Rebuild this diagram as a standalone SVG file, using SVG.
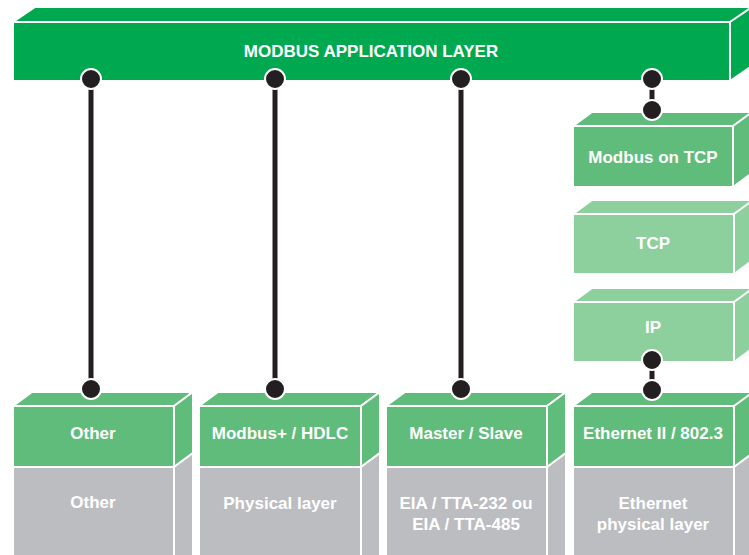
<svg xmlns="http://www.w3.org/2000/svg" width="749" height="555" viewBox="0 0 749 555">
<style>
.f{stroke:#fff;stroke-width:2;stroke-linejoin:miter}
.g0{fill:#00A94F}
.g1{fill:#5FBC7A}
.g2{fill:#8ECF9E}
.gr{fill:#BCBDC1}
.t{font-family:"Liberation Sans",Arial,sans-serif;font-weight:bold;font-size:17px;fill:#fff;text-anchor:middle}
.ln{stroke:#231F20;stroke-width:5;fill:none}
.dot{fill:#231F20;stroke:#fff;stroke-width:2}
</style>
<rect width="749" height="555" fill="#fff"/>
<g id="app-layer">
<polygon class="f g0" points="13,22 35,7 760,7 730,22"/>
<polygon class="f g0" points="730,22 752,7 752,66 730,81"/>
<rect class="f g0" x="13" y="22" width="717" height="59"/>
<text class="t" x="371" y="57">MODBUS APPLICATION LAYER</text>
</g>
<g id="modbus-tcp">
<polygon class="f g1" points="573,126 592,112 760,112 733,126"/>
<polygon class="f g1" points="733,126 752,112 752,173 733,187"/>
<rect class="f g1" x="573" y="126" width="160" height="61"/>
<text class="t" x="653" y="163">Modbus on TCP</text>
</g>
<g id="tcp">
<polygon class="f g2" points="573,214 592,200 760,200 734,214"/>
<polygon class="f g2" points="734,214 753,200 753,260 734,274"/>
<rect class="f g2" x="573" y="214" width="161" height="60"/>
<text class="t" x="653" y="249">TCP</text>
</g>
<g id="ip">
<polygon class="f g2" points="573,302 592,288 760,288 734,302"/>
<polygon class="f g2" points="734,302 753,288 753,348 734,362"/>
<rect class="f g2" x="573" y="302" width="161" height="60"/>
<text class="t" x="653" y="333">IP</text>
</g>
<g id="col-other">
<polygon class="f g1" points="13,406 32,392 193,392 174,406"/>
<polygon class="f g1" points="174,406 193,392 193,453 174,467"/>
<polygon class="f gr" points="174,467 193,453 193,570 174,570"/>
<rect class="f g1" x="13" y="406" width="161" height="61"/>
<rect class="f gr" x="13" y="467" width="161" height="100"/>
<text class="t" x="93" y="439">Other</text>
<text class="t" x="93" y="508">Other</text>
</g>
<g id="col-hdlc">
<polygon class="f g1" points="199,406 218,392 380,392 361,406"/>
<polygon class="f g1" points="361,406 380,392 380,453 361,467"/>
<polygon class="f gr" points="361,467 380,453 380,570 361,570"/>
<rect class="f g1" x="199" y="406" width="162" height="61"/>
<rect class="f gr" x="199" y="467" width="162" height="100"/>
<text class="t" x="280" y="439">Modbus+ / HDLC</text>
<text class="t" x="280" y="509">Physical layer</text>
</g>
<g id="col-serial">
<polygon class="f g1" points="386,406 405,392 566,392 547,406"/>
<polygon class="f g1" points="547,406 566,392 566,453 547,467"/>
<polygon class="f gr" points="547,467 566,453 566,570 547,570"/>
<rect class="f g1" x="386" y="406" width="161" height="61"/>
<rect class="f gr" x="386" y="467" width="161" height="100"/>
<text class="t" x="466" y="439">Master / Slave</text>
<text class="t" x="466" y="509">EIA / TTA-232 ou</text>
<text class="t" x="466" y="530">EIA / TTA-485</text>
</g>
<g id="col-ethernet">
<polygon class="f g1" points="573,406 592,392 760,392 734,406"/>
<polygon class="f g1" points="734,406 753,392 753,453 734,467"/>
<polygon class="f gr" points="734,467 753,453 753,570 734,570"/>
<rect class="f g1" x="573" y="406" width="161" height="61"/>
<rect class="f gr" x="573" y="467" width="161" height="100"/>
<text class="t" x="653" y="439">Ethernet II / 802.3</text>
<text class="t" x="653" y="509">Ethernet</text>
<text class="t" x="653" y="530">physical layer</text>
</g>
<g id="connectors">
<line class="ln" x1="91" y1="79" x2="91" y2="389"/>
<line class="ln" x1="275" y1="79" x2="275" y2="389"/>
<line class="ln" x1="461" y1="79" x2="461" y2="389"/>
<line class="ln" x1="652" y1="79" x2="652" y2="110"/>
<line class="ln" x1="652" y1="360" x2="652" y2="390"/>
<circle class="dot" cx="91" cy="79" r="10"/>
<circle class="dot" cx="91" cy="389" r="10"/>
<circle class="dot" cx="275" cy="79" r="10"/>
<circle class="dot" cx="275" cy="389" r="10"/>
<circle class="dot" cx="461" cy="79" r="10"/>
<circle class="dot" cx="461" cy="389" r="10"/>
<circle class="dot" cx="652" cy="79" r="10"/>
<circle class="dot" cx="652" cy="110" r="10"/>
<circle class="dot" cx="652" cy="360" r="10"/>
<circle class="dot" cx="652" cy="390" r="10"/>
</g>
</svg>
